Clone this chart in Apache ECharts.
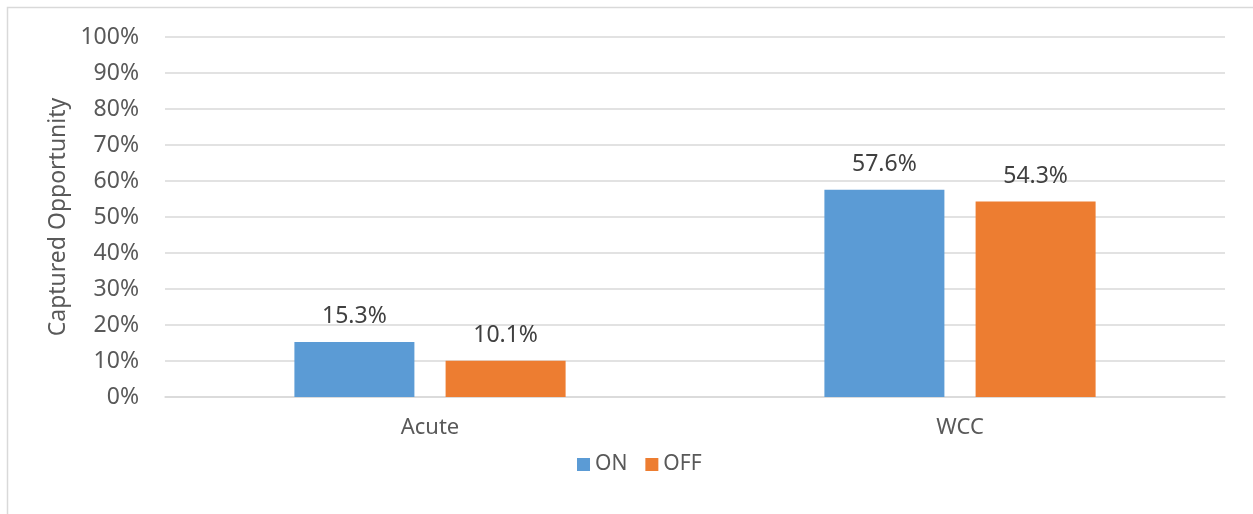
<!DOCTYPE html>
<html>
<head>
<meta charset="utf-8">
<style>
  html, body { margin: 0; padding: 0; background: #ffffff; }
  #chart { width: 1253px; height: 514px; }
</style>
<script src="https://cdn.jsdelivr.net/npm/echarts@6/dist/echarts.min.js"></script>
</head>
<body>
<div id="chart"></div>
<script>
// Captured opportunity by setting, ON vs OFF
const categories = ['Acute', 'WCC'];
const onValues = [15.3, 57.6];
const offValues = [10.1, 54.3];
const seriesNames = ['ON', 'OFF'];
const yTicks = [0, 10, 20, 30, 40, 50, 60, 70, 80, 90, 100];

const FONT = '"Noto Sans", "Open Sans", sans-serif';
const TEXT = '#595959';
const GRID = '#d9d9d9';

const chart = echarts.init(document.getElementById('chart'), null, { renderer: 'canvas' });

const labelStyle = {
  show: true,
  position: 'top',
  distance: 14,
  color: '#404040',
  fontFamily: FONT,
  fontSize: 23,
  formatter: p => p.value.toFixed(1) + '%'
};

chart.setOption({
  animation: false,
  backgroundColor: '#ffffff',
  graphic: [{
    type: 'rect',
    shape: { x: 7.5, y: 7.5, width: 1300, height: 600 },
    style: { fill: 'none', stroke: GRID, lineWidth: 1.5 },
    silent: true,
    z: -1
  }],
  grid: { left: 165, right: 28, top: 37, bottom: 117, containLabel: false },
  legend: {
    data: seriesNames,
    top: 449,
    left: 572,
    itemWidth: 13,
    itemHeight: 13,
    itemGap: 18,
    icon: 'rect',
    textStyle: { color: TEXT, fontFamily: FONT, fontSize: 21 }
  },
  xAxis: {
    type: 'category',
    data: categories,
    axisTick: { show: false },
    axisLine: { show: true, lineStyle: { color: GRID, width: 1.5 } },
    axisLabel: { color: TEXT, fontFamily: FONT, fontSize: 22, margin: 20 }
  },
  yAxis: {
    type: 'value',
    min: yTicks[0],
    max: yTicks[yTicks.length - 1],
    interval: yTicks[1] - yTicks[0],
    name: 'Captured Opportunity',
    nameLocation: 'middle',
    nameGap: 94,
    nameRotate: 90,
    nameTextStyle: { color: TEXT, fontFamily: FONT, fontSize: 23 },
    axisLine: { show: false },
    axisTick: { show: false },
    axisLabel: { color: TEXT, fontFamily: FONT, fontSize: 23, margin: 26, formatter: v => v + '%' },
    splitLine: { lineStyle: { color: GRID, width: 1.5 } }
  },
  series: [
    {
      name: seriesNames[0],
      type: 'bar',
      data: onValues,
      barWidth: 120,
      barGap: '26%',
      itemStyle: { color: '#5B9BD5' },
      label: labelStyle
    },
    {
      name: seriesNames[1],
      type: 'bar',
      data: offValues,
      barWidth: 120,
      barGap: '26%',
      itemStyle: { color: '#ED7D31' },
      label: labelStyle
    }
  ]
});
</script>
</body>
</html>
